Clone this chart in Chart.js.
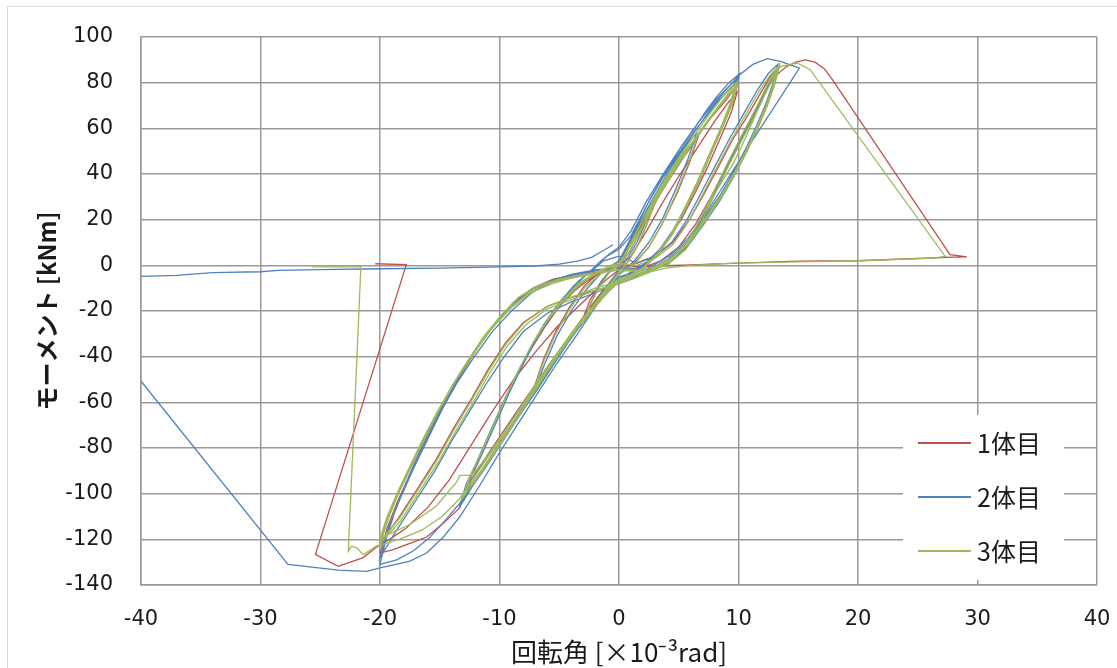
<!DOCTYPE html>
<html><head><meta charset="utf-8">
<script src="https://cdn.jsdelivr.net/npm/chart.js@4.4.1/dist/chart.umd.min.js"></script>
<style>html,body{margin:0;padding:0;background:#fff}canvas{display:block}</style>
</head><body>
<canvas id="c" width="1117" height="668"></canvas>
<script>
// axis settings
const xMin = -40, xMax = 40, xStep = 10;
const yMin = -140, yMax = 100, yStep = 20;
const xTitle = '回転角 [×10⁻³rad]';
const yTitle = 'モーメント [kNm]';
const seriesNames = ['1体目', '2体目', '3体目'];
const seriesColors = ['#C0504D', '#4F81BD', '#9BBB59'];

// 1体目 (rotation, moment)
const red = [[0,0],[1,9],[2,19],[3,27],[2.4,19],[1.6,9],[0.8,2],[0,-3],[-1,-9],[-2,-16],[-3,-23],[-2.4,-15],[-1.6,-8],[-0.8,-3],[0,0],
[1.2,11],[2.5,23],[4,36],[5.5,48],[6.6,56],[5.9,45],[4.9,32],[3.7,19],[2.5,8],[1.3,1],[0,-4],[-1.2,-10],[-2.5,-19],[-4,-30],[-5.5,-41],[-7,-52],[-6.3,-41],[-5.3,-29],[-4.1,-18],[-2.9,-9],[-1.6,-3],[0,0],
[0.9,6],[2.1,18],[3.3,30],[4.6,41],[6.1,53],[7.6,64],[8.9,72],[9.9,79],[9.5,71],[8.7,61],[7.7,49],[6.7,37],[5.6,25],[4.5,14],[3.3,5],[2.1,-1],[1,-4],[0,-6],[-1,-11],[-2.2,-19],[-3.6,-28],[-5.1,-39],[-6.6,-51],[-8.1,-63],[-9.6,-75],[-11.1,-87],[-12.3,-96],[-13.1,-103],[-12.6,-95],[-11.7,-85],[-10.6,-72],[-9.5,-59],[-8.4,-47],[-7.3,-36],[-6.1,-26],[-4.9,-17],[-3.6,-10],[-2.1,-5],[-0.9,-2],[0,0],
[1,4],[2.3,15],[3.6,27],[5,39],[6.5,51],[8,63],[9.1,71],[9.9,76],[9.4,67],[8.5,56],[7.5,44],[6.4,32],[5.3,21],[4.1,11],[2.9,3],[1.6,-2],[0,-6],[-1.2,-12],[-2.5,-20],[-3.9,-30],[-5.4,-41],[-6.9,-53],[-8.4,-65],[-9.9,-77],[-11.4,-89],[-12.5,-97],[-13.2,-104],[-12.7,-96],[-11.8,-86],[-10.7,-73],[-9.6,-60],[-8.5,-48],[-7.4,-37],[-6.2,-27],[-5,-18],[-3.7,-11],[-2.2,-5],[-1,-2],[0,-1],
[1.5,1],[3,4],[4.5,10],[5.9,20],[7.1,31],[8.3,43],[9.5,55],[10.7,65],[11.8,75],[12.7,83],[13.4,87],[13,79],[12.4,70],[11.6,60],[10.7,50],[9.7,40],[8.6,30],[7.3,20],[5.9,10],[4.3,2],[2.6,-2],[1.1,-5],[0,-7],[-1,-12],[-2.5,-21],[-4,-31],[-5.8,-43],[-7.5,-56],[-9.2,-69],[-11,-83],[-12.5,-95],[-13.3,-106],[-14.7,-113],[-16.1,-119],[-17.6,-122],[-18.9,-124.5],[-20,-126],[-19.4,-115],[-18.5,-103],[-17.5,-92],[-16.5,-81],[-15.4,-69],[-14.2,-57],[-13,-46],[-11.7,-35],[-10.3,-25],[-8.8,-16],[-7.2,-10],[-5.5,-6],[-3.5,-4],[-1.5,-3],[0,-2],
[2,-2],[4,1],[5.5,8],[6.8,19],[8,32],[9.2,45],[10.4,57],[11.5,68],[12.5,79],[13.3,86],[12.9,78],[12.3,69],[11.5,59],[10.6,49],[9.6,39],[8.5,29],[7.2,19],[5.8,9],[4.2,1],[2.5,-3],[1,-6],[0,-8],[-2,-11],[-4,-14],[-6,-18],[-8,-25],[-9.5,-34],[-11,-46],[-12.3,-58],[-13.8,-71],[-15.3,-85],[-17,-99],[-18.5,-111],[-20,-122],[-19.3,-110],[-18.3,-98],[-17.2,-86],[-16,-73],[-14.8,-61],[-13.5,-49],[-12.1,-38],[-10.6,-27],[-9,-18],[-7.3,-11],[-5.5,-7],[-3.5,-5],[-1.5,-3],[0,-2],
[2,-1],[3.5,2],[5,8],[6.4,18],[7.6,29],[8.8,41],[10,54],[11.2,66],[12.2,76],[13.1,83],[14,87],[14.8,89],[15.6,90],[16.4,89],[17.2,86],[17.9,81],[27.7,4.7],[29.1,3.7],[28,3.6],[25,3],[20,2],[15,1.8],[10,1],[6,0.2],[3,-0.3],[1,-0.6],[0,-2],
[-1,-6],[-2.2,-12],[-3.6,-19],[-5.2,-27],[-7,-38],[-8.8,-50],[-10.6,-64],[-12.4,-79],[-14.2,-94],[-16,-106],[-17.8,-115],[-19.2,-120],[-20.2,-123],[-21.4,-128],[-23.5,-131.8],[-25.4,-126.6],[-17.8,0.3],[-20.4,0.7]];

// 2体目
const blue = [[0,0],[1,11],[2,21],[3,29],[2.4,21],[1.5,10],[0.7,3],[0,-2],[-1,-9],[-2,-17],[-3,-25],[-2.3,-16],[-1.5,-7],[-0.7,-2],[0,1],
[1.2,13],[2.5,26],[4,40],[5.4,51],[6.5,58],[5.8,47],[4.8,34],[3.7,21],[2.5,10],[1.3,2],[0,-4],[-1.2,-11],[-2.5,-21],[-4,-32],[-5.5,-43],[-7,-54],[-6.2,-43],[-5.2,-31],[-4,-20],[-2.8,-11],[-1.6,-4],[-0.6,0],
[0,2],[1.2,14],[2.5,28],[4,42],[5.1,51],[6.2,59],[7.2,67],[8.2,74],[9.2,80],[10.1,84],[9.6,74],[8.8,63],[7.8,51],[6.8,39],[5.7,27],[4.6,16],[3.4,7],[2.2,1],[1,-3],[0,-6],[-1,-11],[-2.2,-19],[-3.6,-29],[-5.1,-40],[-6.6,-52],[-8.1,-64],[-9.6,-76],[-11.1,-88],[-12.3,-97],[-13,-103],[-12.5,-94],[-11.5,-83],[-10.4,-70],[-9.3,-57],[-8.2,-45],[-7.1,-34],[-5.9,-24],[-4.7,-15],[-3.5,-8],[-2.3,-2],[-1.5,2],[-0.8,5],[0,8],
[1,15],[2.3,28],[3.7,40],[5.2,52],[6.7,63],[8.2,73],[9.3,79],[10,82],[9.5,72],[8.6,60],[7.6,48],[6.6,36],[5.5,24],[4.4,14],[3.2,5],[2,-1],[0.8,-4],[0,-6],[-1.1,-12],[-2.4,-21],[-3.9,-31],[-5.4,-43],[-6.9,-55],[-8.5,-67],[-10,-79],[-11.5,-91],[-12.6,-99],[-13.3,-105],[-12.8,-96],[-11.9,-86],[-10.8,-73],[-9.7,-60],[-8.6,-48],[-7.5,-37],[-6.3,-26],[-5.1,-17],[-3.8,-9],[-2.5,-3],[-1.7,1],[-1,4],[0,7],
[1,13],[2.2,25],[3.6,38],[5,49],[6.5,60],[8,70],[9.2,77],[9.9,81],[9.3,70],[8.4,58],[7.4,46],[6.4,34],[5.3,22],[4.2,12],[3,4],[1.8,-1],[0.7,-4],[0,-5],[-1,-10],[-2.2,-18],[-3.6,-28],[-5,-39],[-6.5,-51],[-8,-63],[-9.5,-75],[-11,-87],[-12.2,-96],[-13,-102],[-12.4,-93],[-11.4,-82],[-10.3,-69],[-9.2,-56],[-8.1,-44],[-7,-33],[-5.8,-23],[-4.6,-14],[-3.4,-7],[-2.2,-2],[-1.3,2],[0,4],
[1.5,1],[3,4],[4.4,10],[5.7,20],[6.9,32],[8.1,44],[9.3,56],[10.5,67],[11.6,77],[12.5,84],[13.3,88],[12.9,80],[12.3,71],[11.5,61],[10.6,51],[9.6,41],[8.5,31],[7.2,21],[5.8,11],[4.2,3],[2.5,-2],[1,-5],[0,-7],[-1,-12],[-2.5,-21],[-4,-31],[-5.7,-43],[-7.4,-56],[-9.1,-69],[-10.9,-83],[-12.4,-95],[-13.3,-104],[-14.6,-112],[-15.8,-119],[-17.2,-125],[-18.6,-129],[-20,-131],[-19.5,-120],[-18.7,-107],[-17.8,-95],[-16.8,-83],[-15.7,-71],[-14.5,-59],[-13.3,-48],[-12,-37],[-10.6,-27],[-9.1,-18],[-7.5,-11],[-5.8,-7],[-4,-4],[-2,-2],[0,-1],
[2,-2],[4,1],[5.5,8],[6.8,19],[8,32],[9.2,45],[10.4,57],[11.5,68],[12.5,79],[13.2,85],[12.8,77],[12.2,68],[11.4,58],[10.5,48],[9.5,38],[8.4,28],[7.1,18],[5.7,8],[4.1,1],[2.4,-3],[1,-6],[0,-8],[-2,-12],[-4,-16],[-6,-21],[-8,-29],[-9.6,-40],[-11,-51],[-12.4,-63],[-13.9,-76],[-15.4,-90],[-17,-103],[-18.6,-116],[-20,-128],[-19.3,-115],[-18.3,-102],[-17.2,-89],[-16,-76],[-14.8,-63],[-13.5,-51],[-12.1,-40],[-10.6,-29],[-9,-20],[-7.3,-12],[-5.5,-7],[-3.5,-4],[-1.5,-2],[0,0],
[1.2,12],[2.5,26],[3.9,39],[5.2,50],[6.4,59],[7.6,68],[8.8,76],[10,83],[11.2,88],[12.4,90.5],[13.5,89.3],[15.1,86.4],[9.6,42],[8.4,32],[7.2,22],[5.8,12],[4.2,4],[2.5,-1],[1,-4],[0,-6],
[-1,-11],[-2.2,-20],[-3.6,-31],[-5.2,-43],[-6.8,-56],[-8.4,-69],[-10,-82],[-11.6,-96],[-13.3,-110],[-14.7,-119],[-16.1,-126],[-17.5,-129.5],[-18.3,-130.5],[-20,-132.5],[-21.1,-134],[-23.5,-133.5],[-27.7,-131],[-47,-5],[-40,-4.8],[-37,-4.4],[-34,-3.2],[-30,-2.8],[-28.5,-2.2],[-25,-1.9],[-20,-1.5],[-15,-1.2],[-10,-0.7],[-7,-0.3],[-5,0.5],[-3.5,1.8],[-2.3,3.5],[-1.3,6.5],[-0.5,9]];

// 3体目
const green = [[0,0],[1,10],[2,20],[3,28],[2.5,20],[1.7,10],[0.8,2],[0,-3],[-1,-10],[-2,-18],[-3,-25],[-2.4,-17],[-1.6,-9],[-0.8,-3],[0,0],
[1.2,12],[2.5,25],[4,38],[5.5,50],[6.6,57],[5.9,46],[4.9,33],[3.8,20],[2.6,9],[1.4,1],[0,-4],[-1.2,-11],[-2.5,-20],[-4,-31],[-5.5,-42],[-7,-53],[-6.3,-42],[-5.3,-30],[-4.1,-19],[-2.9,-10],[-1.6,-4],[0,0],
[0.9,6],[2.1,19],[3.3,31],[4.6,42],[6,53],[7.5,64],[8.8,73],[9.85,80],[9.4,71],[8.6,61],[7.6,49],[6.6,37],[5.5,25],[4.4,14],[3.2,5],[2,-1],[1,-4],[0,-6],[-1,-10],[-2.2,-18],[-3.5,-27],[-5,-38],[-6.5,-50],[-8,-62],[-9.5,-74],[-11,-86],[-12.2,-95],[-13,-101],[-12.5,-93],[-11.6,-83],[-10.5,-70],[-9.4,-57],[-8.3,-45],[-7.2,-34],[-6,-24],[-4.8,-16],[-3.5,-9],[-2,-4],[-0.8,-1],[0,1],
[0.9,8],[2,20],[3.2,32],[4.5,43],[5.9,54],[7.4,65],[8.7,74],[9.8,80],[9.3,71],[8.5,60],[7.5,48],[6.5,36],[5.4,24],[4.3,13],[3.1,4],[1.9,-2],[0.9,-5],[0,-6],[-1,-11],[-2.2,-19],[-3.6,-28],[-5.1,-39],[-6.6,-51],[-8.1,-63],[-9.6,-75],[-11.1,-87],[-12.3,-96],[-13.1,-102],[-12.6,-94],[-11.7,-84],[-10.6,-71],[-9.5,-58],[-8.4,-46],[-7.3,-35],[-6.1,-25],[-4.9,-17],[-3.6,-10],[-2.1,-4],[-0.9,-1],[0,0],
[1,7],[2.2,19],[3.4,31],[4.7,42],[6.1,53],[7.6,64],[8.9,73],[9.9,79],[9.5,71],[8.7,61],[7.7,49],[6.7,37],[5.6,25],[4.5,14],[3.3,5],[2.1,-1],[1,-4],[0,-6],[-1,-10],[-2.1,-18],[-3.4,-27],[-4.9,-38],[-6.4,-50],[-7.9,-62],[-9.4,-74],[-10.9,-86],[-12.1,-95],[-12.9,-100],[-12.4,-92],[-11.5,-82],[-10.4,-69],[-9.3,-56],[-8.2,-44],[-7.1,-33],[-5.9,-23],[-4.7,-15],[-3.4,-8],[-1.9,-3],[-0.7,0],[0,1],
[1.5,0],[3,3],[4.5,9],[5.8,19],[7,31],[8.2,43],[9.4,55],[10.6,66],[11.7,76],[12.6,83],[13.3,87],[12.9,79],[12.3,70],[11.5,60],[10.6,50],[9.6,40],[8.5,30],[7.2,20],[5.8,10],[4.2,2],[2.5,-3],[1,-5],[0,-7],[-1,-12],[-2.5,-21],[-4,-31],[-5.7,-43],[-7.4,-56],[-9.1,-69],[-10.8,-82],[-12.3,-92],[-13.3,-92],[-13.6,-95],[-15.3,-105.5],[-17.5,-113.5],[-20,-119.5],[-19.4,-110],[-18.5,-99],[-17.5,-88],[-16.4,-76],[-15.2,-64],[-14,-53],[-12.7,-42],[-11.3,-31],[-9.9,-22],[-8.4,-14],[-6.8,-9],[-5,-6],[-3,-4],[-1.2,-3],[0,-2],
[2,-2],[4,1],[5.5,8],[6.8,20],[8,33],[9.2,46],[10.4,58],[11.5,69],[12.5,80],[13.3,87],[12.9,79],[12.3,70],[11.6,61],[10.7,51],[9.7,41],[8.6,31],[7.3,21],[5.9,11],[4.3,3],[2.6,-2],[1.1,-5],[0,-7],[-2,-10],[-4,-14],[-6,-18],[-7.9,-25],[-9.4,-34],[-10.9,-46],[-12.2,-58],[-13.7,-71],[-15.2,-85],[-16.9,-99],[-18.4,-111],[-20,-121],[-19.3,-110],[-18.3,-98],[-17.2,-86],[-16,-73],[-14.8,-61],[-13.5,-49],[-12.1,-38],[-10.6,-27],[-9,-18],[-7.3,-11],[-5.5,-7],[-3.5,-5],[-1.5,-3],[0,-2],
[2,-3],[4,0],[5.6,7],[6.9,19],[8.1,32],[9.3,45],[10.5,57],[11.6,68],[12.6,79],[13.4,87],[13,79],[12.4,70],[11.6,60],[10.7,50],[9.7,40],[8.6,30],[7.3,20],[5.9,10],[4.3,2],[2.6,-3],[1.1,-6],[0,-8],[-2,-11],[-4,-15],[-6,-19],[-7.8,-26],[-9.3,-35],[-10.8,-47],[-12.1,-59],[-13.6,-72],[-15.1,-86],[-16.8,-100],[-18.3,-112],[-20,-122],[-19.3,-111],[-18.4,-99],[-17.3,-87],[-16.1,-74],[-14.9,-62],[-13.6,-50],[-12.2,-39],[-10.7,-28],[-9.1,-19],[-7.4,-12],[-5.6,-8],[-3.6,-5],[-1.6,-3],[0,-2],
[2,-2],[4,1],[5.6,9],[6.9,21.5],[8.2,33],[9.6,45],[10.6,56],[11.5,66.7],[12.5,78],[13.5,87],[14.9,88.6],[16,85.7],[27.3,3.9],[26.3,3.2],[20,2],[15,1.5],[9.6,1],[6,0],[4,-1.1],[2.5,-3],[1.2,-4.8],[0,-7],
[-1,-11],[-2.4,-19],[-3.9,-29],[-5.5,-41],[-7.1,-53],[-8.7,-66],[-10.3,-79],[-11.9,-91],[-13.3,-102],[-14.8,-110],[-16.5,-116],[-18.4,-120],[-20.3,-123],[-21.4,-126.7],[-21.95,-123.7],[-22.4,-123],[-22.65,-125.2],[-21.6,-0.7],[-25.7,-0.7]];

const seriesData = [red, blue, green];

const framePlugin = {
  id: 'frame',
  beforeDraw(chart) {
    const ctx = chart.ctx;
    ctx.save();
    ctx.fillStyle = '#fff';
    ctx.fillRect(0, 0, chart.width, chart.height);
    ctx.strokeStyle = '#d9d9d9';
    ctx.lineWidth = 1;
    ctx.strokeRect(7.5, 6.5, chart.width + 20, chart.height + 20);
    ctx.restore();
  }
};

const boxLegend = {
  id: 'boxLegend',
  afterDraw(chart) {
    const ctx = chart.ctx;
    ctx.save();
    ctx.fillStyle = '#fff';
    ctx.fillRect(903, 415, 161, 165);
    ctx.font = '25px "Noto Sans CJK JP"';
    ctx.textBaseline = 'middle';
    ctx.textAlign = 'left';
    seriesNames.forEach((name, i) => {
      const y = 443 + i * 54;
      ctx.strokeStyle = seriesColors[i];
      ctx.lineWidth = 2;
      ctx.beginPath();
      ctx.moveTo(918, y);
      ctx.lineTo(971, y);
      ctx.stroke();
      ctx.fillStyle = '#1a1a1a';
      ctx.fillText(name, 977, y);
    });
    ctx.restore();
  }
};

const gridColor = '#9a9a9a';
new Chart(document.getElementById('c'), {
  type: 'scatter',
  data: {
    datasets: seriesData.map((pts, i) => ({
      label: seriesNames[i],
      data: pts.map(p => ({x: p[0], y: p[1]})),
      showLine: true,
      borderColor: seriesColors[i],
      backgroundColor: seriesColors[i],
      borderWidth: 1.3,
      pointRadius: 0,
      tension: 0,
      order: 3 - i
    }))
  },
  options: {
    responsive: false,
    animation: false,
    devicePixelRatio: 1,
    layout: {padding: {left: 0, right: 20, top: 37, bottom: 0}},
    plugins: {legend: {display: false}, tooltip: {enabled: false}},
    scales: {
      x: {
        type: 'linear', min: xMin, max: xMax,
        ticks: {stepSize: xStep, padding: 0, color: '#1a1a1a', font: {family: 'DejaVu Sans', size: 21}},
        grid: {color: gridColor, lineWidth: 1.5, drawTicks: true, tickLength: 22, tickColor: 'rgba(0,0,0,0)'},
        border: {color: gridColor, width: 1.5},
        title: {display: true, text: xTitle, color: '#1a1a1a', font: {family: '"Noto Sans CJK JP"', size: 26}, padding: {top: 0, bottom: 0}},
        afterFit(s) { s.height = 83; }
      },
      y: {
        type: 'linear', min: yMin, max: yMax,
        ticks: {stepSize: yStep, padding: 0, color: '#1a1a1a', font: {family: 'DejaVu Sans', size: 21}},
        grid: {color: gridColor, lineWidth: 1.5, drawTicks: true, tickLength: 28, tickColor: 'rgba(0,0,0,0)'},
        border: {color: gridColor, width: 1.5},
        title: {display: true, text: yTitle, color: '#1a1a1a', font: {family: '"Noto Sans CJK JP"', size: 24, weight: 'bold'}, padding: {top: 32, bottom: 0}},
        afterFit(s) { s.width = 141; }
      }
    }
  },
  plugins: [framePlugin, boxLegend]
});
</script>
</body></html>
